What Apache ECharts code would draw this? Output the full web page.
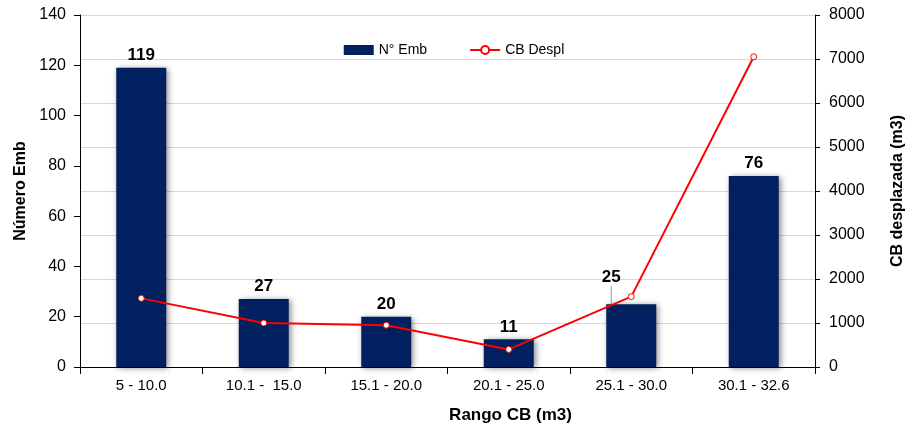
<!DOCTYPE html>
<html><head><meta charset="utf-8">
<script src="https://cdn.jsdelivr.net/npm/echarts@6/dist/echarts.min.js"></script>
<style>html,body{margin:0;padding:0;background:#fff}#c{width:908px;height:426px}</style>
</head><body><div id="c"></div>
<script>
var categories = ['5 - 10.0', '10.1 -  15.0', '15.1 - 20.0', '20.1 - 25.0', '25.1 - 30.0', '30.1 - 32.6'];
var numEmb = [119, 27, 20, 11, 25, 76];
var cbDespl = [1560, 1000, 950, 400, 1600, 7050];
var leftTicks = [0, 140, 20];
var rightTicks = [0, 8000, 1000];

var chart = echarts.init(document.getElementById('c'));
var font = 'Liberation Sans, Arial, sans-serif';
var barData = numEmb.map(function (v, i) {
  if (i === 4) {
    return { value: v, labelLine: { show: true, lineStyle: { color: '#999', width: 1 } } };
  }
  return v;
});
chart.setOption({
  animation: false,
  textStyle: { fontFamily: font },
  grid: { left: 80, right: 93, top: 15, bottom: 59, containLabel: false, outerBoundsMode: 'none' },
  legend: {
    top: 38, left: 'center', itemGap: 42, itemWidth: 30, itemHeight: 10,
    textStyle: { fontFamily: font, fontSize: 14, color: '#000' },
    data: [
      { name: 'N° Emb', icon: 'rect' },
      { name: 'CB Despl' }
    ]
  },
  xAxis: {
    type: 'category', data: categories,
    name: 'Rango CB (m3)', nameLocation: 'middle', nameGap: 40,
    nameTextStyle: { fontFamily: font, fontSize: 17, fontWeight: 'bold', color: '#000', padding: [0, 0, 0, 126] },
    axisLine: { lineStyle: { color: '#000', width: 1 } },
    axisTick: { show: true, length: 7, lineStyle: { color: '#000' } },
    axisLabel: { fontFamily: font, fontSize: 15, color: '#000', margin: 11 }
  },
  yAxis: [
    {
      type: 'value', min: leftTicks[0], max: leftTicks[1], interval: leftTicks[2],
      name: 'Número Emb', nameLocation: 'middle', nameGap: 43, nameRotate: 90,
      nameTextStyle: { fontFamily: font, fontSize: 16, fontWeight: 'bold', color: '#000' },
      axisLine: { show: true, lineStyle: { color: '#000' } },
      axisTick: { show: true, length: 6, lineStyle: { color: '#000' } },
      axisLabel: { fontFamily: font, fontSize: 16, color: '#000', margin: 14 },
      splitLine: { show: false }
    },
    {
      type: 'value', min: rightTicks[0], max: rightTicks[1], interval: rightTicks[2],
      position: 'right',
      name: 'CB desplazada (m3)', nameLocation: 'middle', nameGap: 75, nameRotate: 90,
      nameTextStyle: { fontFamily: font, fontSize: 16, fontWeight: 'bold', color: '#000' },
      axisLine: { show: true, lineStyle: { color: '#000' } },
      axisTick: { show: true, length: 5, lineStyle: { color: '#000' } },
      axisLabel: { fontFamily: font, fontSize: 16, color: '#000', margin: 14, formatter: function (v) { return String(v); } },
      splitLine: { show: true, lineStyle: { color: '#d9d9d9', width: 1 } }
    }
  ],
  series: [
    {
      name: 'N° Emb', type: 'bar', yAxisIndex: 0, data: barData, barWidth: 50,
      itemStyle: { color: '#002060', shadowBlur: 6, shadowColor: 'rgba(0,0,0,0.45)', shadowOffsetX: 2, shadowOffsetY: 1 },
      label: { show: true, position: 'top', fontFamily: font, fontSize: 17, fontWeight: 'bold', color: '#000', distance: 4 },
      labelLayout: function (p) { return p.dataIndex === 4 ? { dx: -20, dy: -14 } : {}; }
    },
    {
      name: 'CB Despl', type: 'line', yAxisIndex: 1, data: cbDespl,
      symbol: 'circle', symbolSize: 6,
      lineStyle: { color: '#ff0000', width: 2 },
      itemStyle: { color: '#fff', borderColor: '#ff0000', borderWidth: 1 }
    }
  ]
});
</script></body></html>
